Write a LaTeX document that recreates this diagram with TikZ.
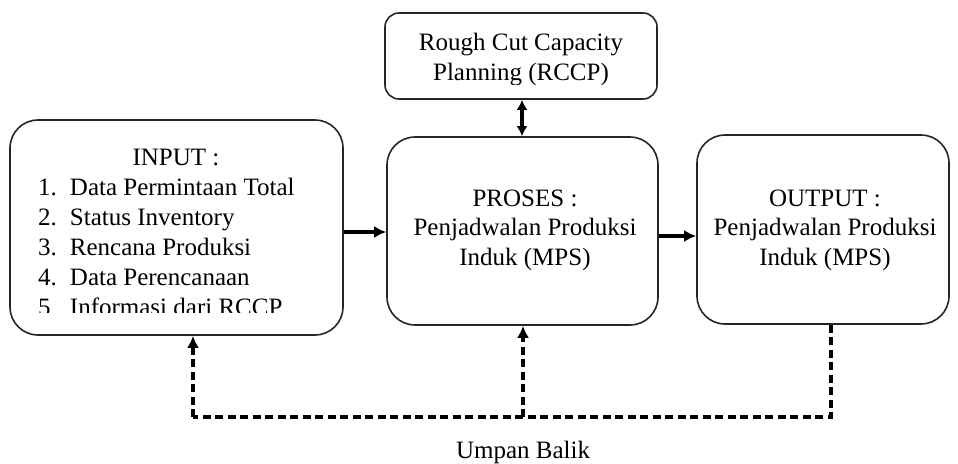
\documentclass[tikz,border=0pt]{standalone}
\usepackage{fontspec}
\setmainfont{Liberation Serif}
\usetikzlibrary{arrows.meta}
\tikzset{
  boxst/.style={draw=black!85, line width=1.6pt, rounded corners=#1, inner sep=0pt},
  boxst/.default=28pt,
  txt/.style={font=\fontsize{25}{29.5}\selectfont, align=center, inner sep=0pt},
  arr/.style={line width=3.4pt, -{Latex[length=12pt,width=12pt]}},
  darr/.style={line width=3.4pt, {Latex[length=10pt,width=11pt]}-{Latex[length=10pt,width=11pt]}},
  fb/.style={line width=3.4pt, dash pattern=on 8pt off 4.5pt},
  fbarr/.style={fb, -{Latex[length=12pt,width=12pt]}},
}
\begin{document}
\begin{tikzpicture}[x=1pt,y=-1pt]
\useasboundingbox (0,0) rectangle (958,463);
% boxes
\node[boxst=14pt, minimum width=272pt, minimum height=86pt] (rccp) at (521,56) {};
\node[boxst, minimum width=333pt, minimum height=215pt] (input) at (176.5,227.5) {};
\node[boxst, minimum width=271pt, minimum height=188pt] (proses) at (522.5,231) {};
\node[boxst, minimum width=252pt, minimum height=189pt] (output) at (823,229.5) {};
% texts
\begin{scope}
\clip (386,14) rectangle (656,84);
\node[txt, anchor=base] (rccpt) at (521,80) {Rough Cut Capacity\\Planning (RCCP)};
\end{scope}
\node[txt, anchor=base] (inputt) at (176,165) {INPUT :};
\begin{scope}
\clip (12,120) rectangle (340,312);
\node[anchor=north west, inner sep=0pt, font=\fontsize{25}{30}\selectfont] (list) at (38,174)
{\begin{tabular}{@{}l@{\hspace{13pt}}l@{}}
1. & Data Permintaan Total\\
2. & Status Inventory\\
3. & Rencana Produksi\\
4. & Data Perencanaan\\
5 & Informasi dari RCCP
\end{tabular}};
\end{scope}
\node[txt] (prosest) at (525,230) {PROSES :\\Penjadwalan Produksi\\Induk (MPS)};
\node[txt] (outputt) at (825,230) {OUTPUT :\\Penjadwalan Produksi\\Induk (MPS)};
\node[txt, anchor=base] (umpan) at (523,458) {Umpan Balik};
% connectors
\draw[arr] (input.east |- 0,232) -- (proses.west |- 0,232);
\draw[arr] (proses.east |- 0,236) -- (output.west |- 0,236);
\draw[darr] (rccp.south -| 522,0) -- (proses.north -| 522,0);
\coordinate (fbL) at (193,417);
\coordinate (fbM) at (523,417);
\coordinate (fbR) at (831,417);
\draw[fb] (output.south -| fbR) -- (fbR) -- (fbL);
\draw[fbarr] (fbL) -- (input.south -| fbL);
\draw[fbarr] (fbM) -- (proses.south -| fbM);
\end{tikzpicture}
\end{document}
